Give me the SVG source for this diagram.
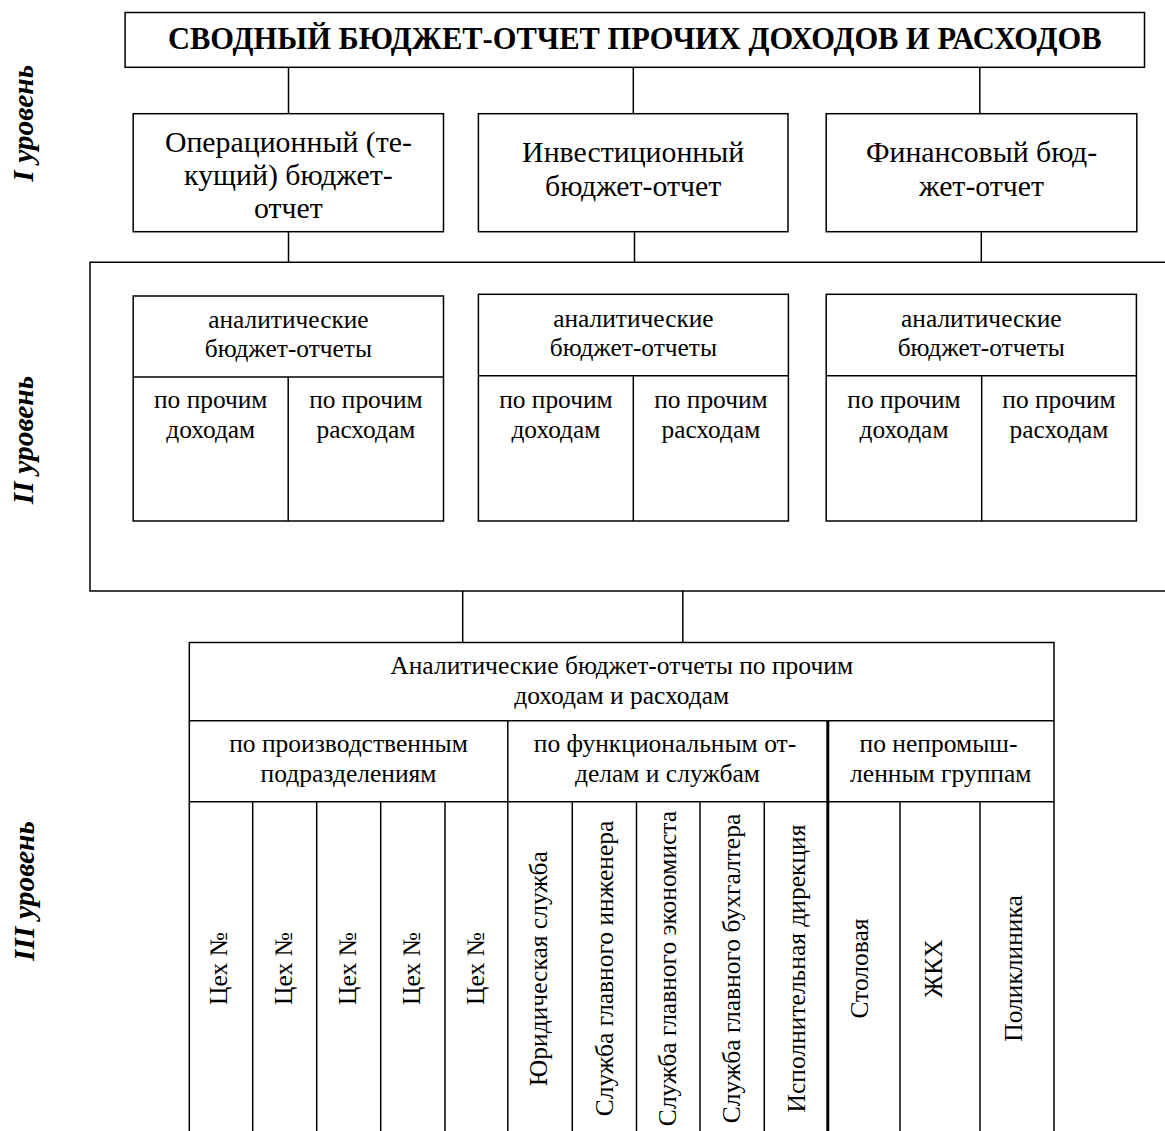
<svg xmlns="http://www.w3.org/2000/svg" width="1165" height="1131" viewBox="0 0 1165 1131">
<style>
  .box { fill: #fff; stroke: #000; stroke-width: 1.5; }
  .ln { stroke: #000; stroke-width: 1.5; fill: none; }
  .thick { stroke: #000; stroke-width: 3; fill: none; }
  text { font-family: "Liberation Serif", "Times New Roman", serif; fill: #000; }
  .title { font-size: 30.5px; font-weight: bold; text-anchor: middle; }
  .t1 { font-size: 29.8px; text-anchor: middle; }
  .t2 { font-size: 25.4px; text-anchor: middle; }
  .t3 { font-size: 25.5px; text-anchor: middle; }
  .lvl { font-size: 29.5px; font-weight: bold; font-style: italic; text-anchor: middle; }
</style>
<rect width="1165" height="1131" fill="#fff"/>

<g id="connectors">
  <line class="ln" x1="288.5" y1="67.3" x2="288.5" y2="113.7"/>
  <line class="ln" x1="633.3" y1="67.3" x2="633.3" y2="113.7"/>
  <line class="ln" x1="979.8" y1="67.3" x2="979.8" y2="113.7"/>
  <line class="ln" x1="288.5" y1="231.7" x2="288.5" y2="262.3"/>
  <line class="ln" x1="634.5" y1="231.7" x2="634.5" y2="262.3"/>
  <line class="ln" x1="981.3" y1="231.7" x2="981.3" y2="262.3"/>
  <line class="ln" x1="462.7" y1="591" x2="462.7" y2="642.5"/>
  <line class="ln" x1="682.8" y1="591" x2="682.8" y2="642.5"/>
</g>

<g id="levels">
  <text class="lvl" transform="translate(33,123.3) rotate(-90)">I уровень</text>
  <text class="lvl" transform="translate(33,440) rotate(-90)">II уровень</text>
  <text class="lvl" transform="translate(34,891) rotate(-90)">III уровень</text>
</g>

<g id="summary">
  <rect class="box" x="125.1" y="12.5" width="1019.4" height="54.8"/>
  <text class="title" x="634.8" y="49.3">СВОДНЫЙ БЮДЖЕТ-ОТЧЕТ ПРОЧИХ ДОХОДОВ И РАСХОДОВ</text>
</g>

<g id="operational">
  <rect class="box" x="133.2" y="113.7" width="310.3" height="118"/>
  <text class="t1" x="288.4" y="151.7">Операционный (те-</text>
  <text class="t1" x="288.4" y="185">кущий) бюджет-</text>
  <text class="t1" x="288.4" y="218.3">отчет</text>
</g>

<g id="investment">
  <rect class="box" x="478.4" y="113.7" width="309.6" height="118"/>
  <text class="t1" x="633.2" y="162">Инвестиционный</text>
  <text class="t1" x="633.2" y="196">бюджет-отчет</text>
</g>

<g id="financial">
  <rect class="box" x="826.2" y="113.7" width="310.6" height="118"/>
  <text class="t1" x="981.5" y="162">Финансовый бюд-</text>
  <text class="t1" x="981.5" y="196">жет-отчет</text>
</g>

<g id="level2-frame">
  <path class="ln" d="M1166,262.3 H90 V591 H1166"/>
</g>

<g id="analytic-operational">
  <rect class="box" x="133.2" y="296" width="310.3" height="225"/>
  <line class="ln" x1="133.2" y1="377" x2="443.5" y2="377"/>
  <line class="ln" x1="288.2" y1="377" x2="288.2" y2="521"/>
  <text class="t2" x="288.4" y="328.3">аналитические</text>
  <text class="t2" x="288.4" y="357.3">бюджет-отчеты</text>
  <text class="t2" x="210.7" y="408">по прочим</text>
  <text class="t2" x="210.7" y="438">доходам</text>
  <text class="t2" x="365.9" y="408">по прочим</text>
  <text class="t2" x="365.9" y="438">расходам</text>
</g>

<g id="analytic-investment">
  <rect class="box" x="478.4" y="294.3" width="310" height="226.7"/>
  <line class="ln" x1="478.4" y1="375.7" x2="788.4" y2="375.7"/>
  <line class="ln" x1="633.3" y1="375.7" x2="633.3" y2="521"/>
  <text class="t2" x="633.4" y="326.7">аналитические</text>
  <text class="t2" x="633.4" y="356">бюджет-отчеты</text>
  <text class="t2" x="555.9" y="408">по прочим</text>
  <text class="t2" x="555.9" y="438">доходам</text>
  <text class="t2" x="710.9" y="408">по прочим</text>
  <text class="t2" x="710.9" y="438">расходам</text>
</g>

<g id="analytic-financial">
  <rect class="box" x="826.2" y="294.3" width="310.2" height="226.7"/>
  <line class="ln" x1="826.2" y1="375.7" x2="1136.4" y2="375.7"/>
  <line class="ln" x1="981.7" y1="375.7" x2="981.7" y2="521"/>
  <text class="t2" x="981.3" y="326.7">аналитические</text>
  <text class="t2" x="981.3" y="356">бюджет-отчеты</text>
  <text class="t2" x="904" y="408">по прочим</text>
  <text class="t2" x="904" y="438">доходам</text>
  <text class="t2" x="1059" y="408">по прочим</text>
  <text class="t2" x="1059" y="438">расходам</text>
</g>

<g id="level3-table">
  <path class="ln" d="M189.3,1132 V642.5 H1054 V1132"/>
  <line class="ln" x1="189.3" y1="720.7" x2="1054" y2="720.7"/>
  <line class="ln" x1="189.3" y1="801.7" x2="1054" y2="801.7"/>
  <line class="ln" x1="507.8" y1="720.7" x2="507.8" y2="1132"/>
  <line class="thick" x1="827.8" y1="720.7" x2="827.8" y2="1132"/>
  <line class="ln" x1="252.7" y1="801.7" x2="252.7" y2="1132"/>
  <line class="ln" x1="316.7" y1="801.7" x2="316.7" y2="1132"/>
  <line class="ln" x1="380.7" y1="801.7" x2="380.7" y2="1132"/>
  <line class="ln" x1="445" y1="801.7" x2="445" y2="1132"/>
  <line class="ln" x1="572.3" y1="801.7" x2="572.3" y2="1132"/>
  <line class="ln" x1="636.5" y1="801.7" x2="636.5" y2="1132"/>
  <line class="ln" x1="700" y1="801.7" x2="700" y2="1132"/>
  <line class="ln" x1="764.3" y1="801.7" x2="764.3" y2="1132"/>
  <line class="ln" x1="900" y1="801.7" x2="900" y2="1132"/>
  <line class="ln" x1="980" y1="801.7" x2="980" y2="1132"/>
  <text class="t3" x="621.7" y="674.3">Аналитические бюджет-отчеты по прочим</text>
  <text class="t3" x="621.7" y="704">доходам и расходам</text>
  <text class="t3" x="348.5" y="751.7">по производственным</text>
  <text class="t3" x="348.5" y="781.7">подразделениям</text>
  <text class="t3" x="665" y="751.7">по функциональным от-</text>
  <text class="t3" x="667.5" y="781.7">делам и службам</text>
  <text class="t3" x="938.5" y="751.7">по непромыш-</text>
  <text class="t3" x="940.8" y="781.7">ленным группам</text>
</g>

<g id="level3-columns">
  <text class="t3" transform="translate(227,968.5) rotate(-90)">Цех №</text>
  <text class="t3" transform="translate(291.5,968.5) rotate(-90)">Цех №</text>
  <text class="t3" transform="translate(356,968.5) rotate(-90)">Цех №</text>
  <text class="t3" transform="translate(420,968.5) rotate(-90)">Цех №</text>
  <text class="t3" transform="translate(484,968.5) rotate(-90)">Цех №</text>
  <text class="t3" transform="translate(547,968.5) rotate(-90)">Юридическая служба</text>
  <text class="t3" transform="translate(613,968.5) rotate(-90)">Служба главного инженера</text>
  <text class="t3" transform="translate(676,968.5) rotate(-90)">Служба главного экономиста</text>
  <text class="t3" transform="translate(740,968.5) rotate(-90)">Служба главного бухгалтера</text>
  <text class="t3" transform="translate(805,968.5) rotate(-90)">Исполнительная дирекция</text>
  <text class="t3" transform="translate(868,968.5) rotate(-90)">Столовая</text>
  <text class="t3" transform="translate(941.7,968.5) rotate(-90)">ЖКХ</text>
  <text class="t3" transform="translate(1021.7,968.5) rotate(-90)">Поликлиника</text>
</g>
</svg>
